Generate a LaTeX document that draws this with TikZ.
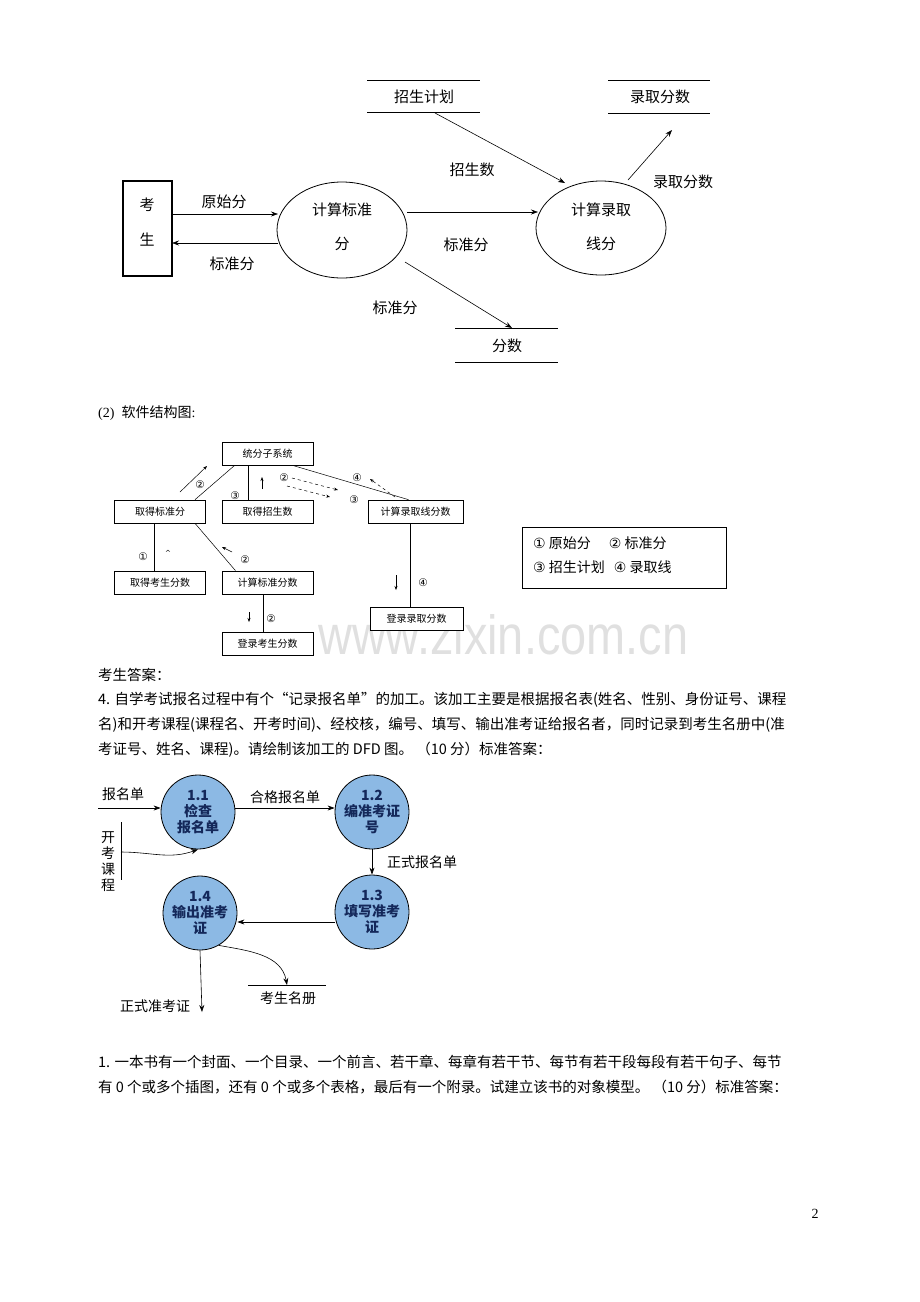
\documentclass[tikz,border=0pt]{standalone}
\usepackage{fontspec}
\setmainfont{Liberation Serif}
\newfontfamily\cjk{Noto Sans CJK SC}
\newfontfamily\dv{DejaVu Sans}
\newfontfamily\lsans{Liberation Sans}
\usetikzlibrary{arrows.meta}
\begin{document}
\begin{tikzpicture}[x=1pt,y=-1pt,
  t/.style={font=\cjk\fontsize{15}{18}\selectfont,inner sep=0},
  st/.style={font=\dv\fontsize{10.5}{12}\selectfont,inner sep=0},
  ar/.style={-{Stealth[length=7pt,width=5pt]},line width=0.6pt},
  sa/.style={-{Stealth[length=4pt,width=3pt]},line width=0.5pt},
  bx/.style={draw,fill=white,line width=0.7pt,minimum width=91pt,minimum height=23pt,font=\cjk\fontsize{10}{12}\selectfont,inner sep=0},
  pc/.style={circle,draw=black,line width=0.8pt,fill={rgb,255:red,140;green,185;blue,228},minimum size=74pt,inner sep=0,align=center,font=\cjk\bfseries\fontsize{14}{16}\selectfont,text={rgb,255:red,20;green,40;blue,90}},
  body/.style={anchor=west,inner sep=0,font=\cjk\fontsize{14.5}{17}\selectfont}]
\useasboundingbox (0,0) rectangle (920,1302);
% watermark (behind)
\node[anchor=west,text=black!12,inner sep=0] (wm) at (318,635) {\resizebox{370pt}{40pt}{\lsans www.zixin.com.cn}};
% ---------- top DFD ----------
\node[draw,line width=1.2pt,minimum width=49pt,minimum height=95pt,inner sep=0] (ks) at (147.5,228.5) {};
\node[t] at (147,205) {考}; \node[t] at (147,240) {生};
\draw[line width=0.8pt] (342,230) ellipse (65 and 48);
\node[t] at (342,210) {计算标准}; \node[t] at (342,244) {分};
\draw[line width=0.8pt] (601,228) ellipse (65 and 47);
\node[t] at (601,210) {计算录取}; \node[t] at (601,244) {线分};
\draw[line width=1pt] (367,80) -- (480,80) (367,112) -- (480,112);
\node[t] (zp) at (424,97) {招生计划};
\draw[line width=1pt] (608,80) -- (710,80) (608,113) -- (710,113);
\node[t] (lq) at (660,97) {录取分数};
\draw[line width=1pt] (455,328) -- (558,328) (455,362) -- (558,362);
\node[t] (fs) at (507,346) {分数};
\coordinate (a1) at (172,214); \coordinate (a2) at (278,214);
\draw[ar] (a1) -- (a2); \node[t] at (224,202) {原始分};
\coordinate (b1) at (278,243); \coordinate (b2) at (172,243);
\draw[ar] (b1) -- (b2); \node[t] at (232,264) {标准分};
\coordinate (c1) at (407,212); \coordinate (c2) at (538,212);
\draw[ar] (c1) -- (c2); \node[t] at (466,245) {标准分};
\coordinate (d1) at (435,113); \coordinate (d2) at (565,183);
\draw[ar] (d1) -- (d2); \node[t] at (472,170) {招生数};
\coordinate (f1) at (628,180); \coordinate (f2) at (672,130);
\draw[ar] (f1) -- (f2); \node[t] at (683,182) {录取分数};
\coordinate (g1) at (405,262); \coordinate (g2) at (512,328);
\draw[ar] (g1) -- (g2); \node[t] at (395,308) {标准分};
% ---------- structure chart ----------
\node[anchor=west,inner sep=0,font=\fontsize{14}{16}\selectfont] at (98,413) {(2)\ \ {\cjk 软件结构图}:};
\node[bx] (s0) at (267.5,453.5) {统分子系统};
\node[bx] (s1) at (160,511.5) {取得标准分};
\node[bx] (s2) at (267.5,511.5) {取得招生数};
\node[bx,minimum width=95pt] (s3) at (415.5,511.5) {计算录取线分数};
\node[bx] (s4) at (160,582.5) {取得考生分数};
\node[bx] (s5) at (267.5,582.5) {计算标准分数};
\node[bx,minimum width=93pt] (s6) at (416.5,619) {登录录取分数};
\node[bx] (s7) at (267.5,643.5) {登录考生分数};
\draw[line width=0.5pt] (s0.south west)++(13,0) -- ([xshift=35]s1.north);
\draw[line width=0.5pt] ([xshift=-19]s0.south) -- ([xshift=-19]s2.north);
\draw[line width=0.5pt] ([xshift=25]s0.south) -- ([xshift=-7]s3.north);
\draw[line width=0.5pt] ([xshift=-6]s1.south) -- ([xshift=-6]s4.north);
\draw[line width=0.5pt] ([xshift=35]s1.south) -- ([xshift=-32]s5.north);
\draw[line width=0.5pt] ([xshift=-4]s5.south) -- ([xshift=-4]s7.north);
\draw[line width=0.5pt] ([xshift=-5]s3.south) -- ([xshift=-6]s6.north);
\draw[sa] (180,492) -- (207,466);
\draw[sa] (262,489) -- (262,477);
\draw[sa,dashed] (292,478) -- (338,490);
\draw[sa,dashed] (287,486) -- (330,497);
\draw[sa,dashed] (395,497) -- (370,479);
\draw[sa] (232,552) -- (222,547);
\draw[sa] (396,575) -- (396,590);
\draw[sa] (249,612) -- (249,622);
\node[st] at (200,485) {②};
\node[st] at (235,496) {③};
\node[st] at (284,478) {②};
\node[st] at (354,500) {③};
\node[st] at (357,478) {④};
\node[st] at (143,557) {①};
\node[st,font=\dv\fontsize{7}{8}\selectfont] at (168,553) {\^{}};
\node[st] at (245,560) {②};
\node[st] at (271,619) {②};
\node[st] at (423,583) {④};
\node[draw,line width=0.6pt,minimum width=204pt,minimum height=61pt,inner sep=0] (lg) at (624,557.5) {};
\node[anchor=west,inner sep=0,font=\cjk\fontsize{14}{16}\selectfont] at (533,543) {{\dv ①} 原始分\hspace{18pt}{\dv ②} 标准分};
\node[anchor=west,inner sep=0,font=\cjk\fontsize{14}{16}\selectfont] at (533,567) {{\dv ③} 招生计划\hspace{9pt}{\dv ④} 录取线};
% ---------- text ----------
\node[body] at (98,675) {考生答案：};
\node[body] at (98,700) {4. 自学考试报名过程中有个“记录报名单”的加工。该加工主要是根据报名表(姓名、性别、身份证号、课程};
\node[body] at (98,725) {名)和开考课程(课程名、开考时间)、经校核，编号、填写、输出准考证给报名者，同时记录到考生名册中(准};
\node[body] at (98,750) {考证号、姓名、课程)。请绘制该加工的 DFD 图。 （10 分）标准答案：};
% ---------- bottom DFD ----------
\node[pc] (p1) at (198,812) {1.1\\检查\\报名单};
\node[pc] (p2) at (372,812) {1.2\\编准考证\\号};
\node[pc] (p3) at (372,912) {1.3\\填写准考\\证};
\node[pc] (p4) at (200,913) {1.4\\输出准考\\证};
\coordinate (in1) at (98,808);
\draw[ar] (in1) -- (p1.west|-in1);
\node[t,font=\cjk\fontsize{14}{16}\selectfont] at (123,794) {报名单};
\node[t,font=\cjk\fontsize{14}{16}\selectfont,align=center] at (108,862) {开\\考\\课\\程};
\draw[line width=0.8pt] (121,822) -- (121,880);
\coordinate (in2) at (121,852);
\draw[ar] (in2) to[out=0,in=200] (p1.south);
\draw[ar] (p1.east|-in1) -- (p2.west|-in1);
\node[t,font=\cjk\fontsize{14}{16}\selectfont] at (285,797) {合格报名单};
\draw[ar] (p2) -- (p3);
\node[t,font=\cjk\fontsize{14}{16}\selectfont] at (422,862) {正式报名单};
\coordinate (h) at (372,922);
\draw[ar] (p3.west|-h) -- (p4.east|-h);
\coordinate (o1) at (202,1012);
\draw[ar] (p4.south) -- (o1);
\node[t,font=\cjk\fontsize{14}{16}\selectfont] at (155,1006) {正式准考证};
\coordinate (o2) at (287,985);
\draw[ar] (p4.-60) to[out=-10,in=100] (o2);
\draw[line width=0.8pt] (248,985) -- (326,985);
\node[t,font=\cjk\fontsize{14}{16}\selectfont] at (288,998) {考生名册};
% ---------- last text ----------
\node[body] at (98,1062) {1. 一本书有一个封面、一个目录、一个前言、若干章、每章有若干节、每节有若干段每段有若干句子、每节};
\node[body] at (98,1087) {有 0 个或多个插图，还有 0 个或多个表格，最后有一个附录。试建立该书的对象模型。 （10 分）标准答案：};
\node[inner sep=0,font=\fontsize{14}{16}\selectfont] at (815,1214) {2};
\end{tikzpicture}
\end{document}
